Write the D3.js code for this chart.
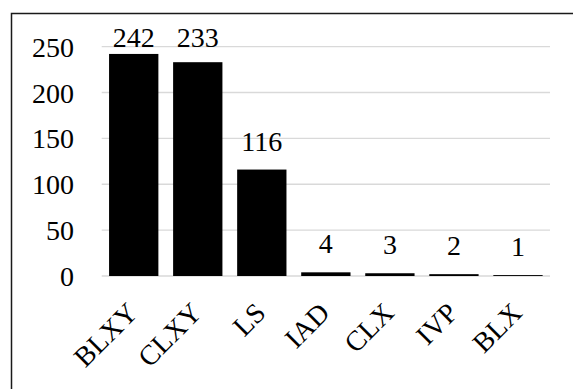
<!DOCTYPE html>
<html>
<head>
<meta charset="utf-8">
<script src="https://cdn.jsdelivr.net/npm/d3@7"></script>
<style>
  html, body { margin: 0; padding: 0; background: #fff; }
  svg { display: block; }
  text { font-family: "Liberation Serif", "Times New Roman", serif; fill: #000; }
</style>
</head>
<body>
<svg id="chart" width="573" height="389"></svg>
<script>
const categories = ["BLXY", "CLXY", "LS", "IAD", "CLX", "IVP", "BLX"];
const values = [242, 233, 116, 4, 3, 2, 1];
const yTicks = [0, 50, 100, 150, 200, 250];

const svg = d3.select("#chart");
const W = 573, H = 389;

// outer frame (extends beyond the picture on right and bottom)
svg.append("rect")
  .attr("x", 11.5).attr("y", 13.5)
  .attr("width", 620).attr("height", 420)
  .attr("fill", "none").attr("stroke", "#1a1a1a").attr("stroke-width", 1.5);

const x = d3.scaleBand().domain(categories).range([101.7, 550]).paddingInner(0.23).paddingOuter(0.115);
const y = d3.scaleLinear().domain([0, 250]).range([276, 46.6]);

// gridlines
svg.append("g").selectAll("line").data(yTicks).join("line")
  .attr("x1", 101.7).attr("x2", 550)
  .attr("y1", d => y(d)).attr("y2", d => y(d))
  .attr("stroke", "#d9d9d9").attr("stroke-width", 1.3);

// y axis labels
const yAxis = d3.axisLeft(y).tickValues(yTicks).tickSize(0).tickPadding(0);
const gy = svg.append("g").attr("transform", "translate(74,0)").call(yAxis);
gy.select(".domain").remove();
gy.selectAll("text")
  .attr("font-size", 28)
  .attr("font-family", "Liberation Serif, Times New Roman, serif")
  .attr("fill", "#000")
  .attr("x", 0)
  .attr("dy", "0.34em");

// bars
svg.append("g").selectAll("rect").data(values).join("rect")
  .attr("x", (d, i) => x(categories[i]))
  .attr("width", x.bandwidth())
  .attr("y", d => y(d))
  .attr("height", d => y(0) - y(d))
  .attr("fill", "#000");

// value labels
svg.append("g").selectAll("text").data(values).join("text")
  .attr("x", (d, i) => x(categories[i]) + x.bandwidth() / 2)
  .attr("y", d => Math.max(y(d) - 19, 46.5))
  .attr("text-anchor", "middle")
  .attr("font-size", 28)
  .text(d => d);

// x axis labels rotated
const xAxis = d3.axisBottom(x).tickSize(0).tickPadding(0);
const gx = svg.append("g").attr("transform", "translate(0,308)").call(xAxis);
gx.select(".domain").remove();
gx.selectAll("text")
  .attr("font-size", 28)
  .attr("font-family", "Liberation Serif, Times New Roman, serif")
  .attr("fill", "#000")
  .attr("text-anchor", "end")
  .attr("y", 0)
  .attr("dy", "0.33em")
  .attr("transform", "translate(-1,0) rotate(-45)");
</script>
</body>
</html>
